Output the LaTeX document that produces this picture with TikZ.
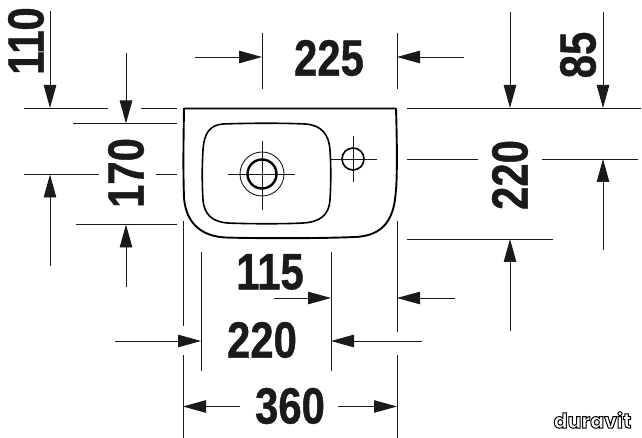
\documentclass[tikz,border=0pt]{standalone}
\usepackage{fontspec}
\setmainfont{Liberation Sans}[BoldFeatures={FakeStretch=0.82,FakeBold=0.8}]
\newfontfamily\logofont{Poppins}
\usetikzlibrary{arrows.meta}
\definecolor{ink}{HTML}{1A1A1A}
\tikzset{
  dimline/.style={draw=ink,line width=0.95pt},
  dimarrow/.style={dimline,-{Stealth[length=23pt,width=12.5pt,inset=0pt]}},
  outline/.style={draw=black,line width=1.9pt,line join=round},
  fine/.style={draw=ink,line width=0.9pt},
  dimtext/.style={text=ink,inner sep=0pt,font=\fontsize{51}{51}\selectfont\bfseries},
  logotext/.style={inner sep=0pt,font=\logofont\fontsize{20.5}{20.5}\selectfont\bfseries}
}
\begin{document}
\begin{tikzpicture}[x=1pt,y=-1pt]
\useasboundingbox (0,0) rectangle (642,438);
% basin
\draw[outline] (184,108.5) -- (396,108.5) .. controls (397,140) and (397.5,180) .. (395.5,195)
  .. controls (393,225) and (378,236) .. (355,237) .. controls (320,238.5) and (260,238.5) .. (225,237.5)
  .. controls (200,236) and (186,222) .. (184,198) .. controls (183,170) and (183.5,140) .. (184,108.5) -- cycle;
\draw[outline,line width=1.6pt] (223,124) .. controls (250,123) and (285,123) .. (305,124)
  .. controls (322,125) and (329,135) .. (330,150) .. controls (331,165) and (331,185) .. (330,200)
  .. controls (329,215) and (320,222) .. (303,223) .. controls (285,224) and (250,224) .. (228,223)
  .. controls (212,222) and (204,214) .. (203,200) .. controls (202,185) and (202,165) .. (203,150)
  .. controls (204,133) and (210,125) .. (223,124) -- cycle;
% outlet
\draw[fine] (262,174) circle[radius=22];
\draw[draw=black,line width=2.4pt] (262,174) circle[radius=14.5];
\draw[fine] (228,174) -- (295,174) (262,141) -- (262,210);
% tap hole
\draw[draw=black,line width=1.6pt] (353,159) circle[radius=11];
\draw[fine] (330,159) -- (377,159) (353,136) -- (353,182);
% horizontal extension lines
\draw[dimline] (24,108) -- (108,108) (141,108) -- (177,108);
\draw[dimline] (73,123.5) -- (177,123.5);
\draw[dimline] (24,174.5) -- (99,174.5) (156,174.5) -- (177,174.5);
\draw[dimline] (76,224.5) -- (177,224.5);
\draw[dimline] (407,108) -- (641,108);
\draw[dimline] (407,159) -- (478,159) (542,159) -- (638,159);
\draw[dimline] (407,239) -- (553,239);
% vertical extension lines
\draw[dimline] (262,33) -- (262,89) (397,33) -- (397,89);
\draw[dimline] (183,221) -- (183,326) (183,355) -- (183,438);
\draw[dimline] (201,252) -- (201,371) (331,252) -- (331,371);
\draw[dimline] (397,221) -- (397,332) (397,355) -- (397,438);
% arrows
\draw[dimarrow] (50,11) -- (50,108);
\draw[dimarrow] (126,53) -- (126,123.5);
\draw[dimarrow] (50,266) -- (50,174.5);
\draw[dimarrow] (126,287) -- (126,224.5);
\draw[dimarrow] (195,57) -- (262,57);
\draw[dimarrow] (464,57) -- (397,57);
\draw[dimarrow] (510,12) -- (510,108);
\draw[dimarrow] (603,12) -- (603,108);
\draw[dimarrow] (603,250) -- (603,159);
\draw[dimarrow] (510,331) -- (510,239);
\draw[dimarrow] (274,298) -- (331,298);
\draw[dimarrow] (455,298) -- (397,298);
\draw[dimarrow] (115,341) -- (201,341);
\draw[dimarrow] (422,341) -- (331,341);
\draw[dimarrow] (240,406.5) -- (183,406.5);
\draw[dimarrow] (338,406.5) -- (397,406.5);
% labels
\node[dimtext,rotate=90] (d110) at (26,41) {110};
\node[dimtext,rotate=90] (d170) at (126,173) {170};
\node[dimtext] (d225) at (329,58) {225};
\node[dimtext,rotate=90] (d85) at (578,55) {85};
\node[dimtext,rotate=90] (d220r) at (510,175) {220};
\node[dimtext] (d115) at (270,272) {115};
\node[dimtext] (d220b) at (262,340) {220};
\node[dimtext] (d360) at (290,406) {360};
\node[logotext] (logo) at (592.5,420) {\special{pdf:code q 2 Tr 1 w 1 g 0 G}duravit\special{pdf:code Q}};
\end{tikzpicture}
\end{document}
